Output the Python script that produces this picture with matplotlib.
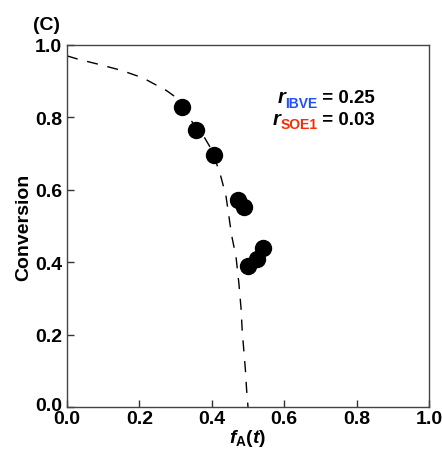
import numpy as np
import matplotlib.pyplot as plt
from matplotlib.transforms import ScaledTranslation

plt.rcParams['font.family'] = 'Liberation Sans'
plt.rcParams['font.weight'] = 'bold'
plt.rcParams['mathtext.fontset'] = 'custom'
plt.rcParams['mathtext.it'] = 'Liberation Sans:bold:italic'
plt.rcParams['mathtext.rm'] = 'Liberation Sans:bold'
plt.rcParams['mathtext.bf'] = 'Liberation Sans:bold'

# experimental points
fA_exp   = [0.318, 0.356, 0.406, 0.472, 0.489, 0.500, 0.525, 0.541]
conv_exp = [0.829, 0.765, 0.696, 0.572, 0.552, 0.390, 0.408, 0.438]

# model curve
fA_fit   = [0.0, 0.03, 0.09, 0.15, 0.21, 0.275, 0.30, 0.326, 0.377, 0.40, 0.423,
            0.439, 0.455, 0.467, 0.475, 0.481, 0.484, 0.489, 0.493, 0.496, 0.50]
conv_fit = [0.97, 0.961, 0.946, 0.930, 0.909, 0.874, 0.856, 0.812, 0.749, 0.71, 0.644,
            0.584, 0.473, 0.414, 0.34, 0.27, 0.21, 0.15, 0.10, 0.05, 0.0]

r_labels = ['IBVE', 'SOE1']
r_values = ['0.25', '0.03']
r_colors = ['#1f4fff', '#ff2a00']

fig = plt.figure(figsize=(4.42, 4.52), dpi=100)
ax = fig.add_axes([67/442, 1-408/452, 362/442, 362/452])

ax.plot(fA_fit, conv_fit, color='black', lw=1.0, dashes=(8, 7))
ax.plot(fA_exp, conv_exp, 'o', color='black', markersize=11.5)

ax.set_xlim(0, 1)
ax.set_ylim(0, 1)
ax.set_xticks(np.arange(0, 1.01, 0.2))
ax.set_yticks(np.arange(0, 1.01, 0.2))
ax.xaxis.set_major_formatter(plt.FormatStrFormatter('%.1f'))
ax.yaxis.set_major_formatter(plt.FormatStrFormatter('%.1f'))
ax.tick_params(direction='in', length=5, width=1, labelsize=14, color='#333333')
ax.tick_params(axis='x', pad=2.5)
ax.tick_params(axis='y', pad=3.5)
for s in ax.spines.values():
    s.set_color('#444444')
    s.set_linewidth(1)

# the bottom y tick label sits a little high in the original
up = ScaledTranslation(0, 3/100, fig.dpi_scale_trans)
lbl0 = ax.get_yticklabels()[0]
lbl0.set_transform(lbl0.get_transform() + up)

ax.set_xlabel(r'$f_{\mathrm{A}}(t)$', fontsize=14, labelpad=0)
ax.set_ylabel('Conversion', fontsize=14, fontweight='bold', labelpad=2)

fig.text(33/442, 1-30/452, '(C)', fontsize=14, fontweight='bold', ha='left', va='baseline')

ys = [0.842, 0.783]
for lab, val, col, y in zip(r_labels, r_values, r_colors, ys):
    t_eq = ax.text(0.851, y, ' = ' + val, fontsize=13.5, fontweight='bold',
                   ha='right', va='baseline')
    t_sub = ax.annotate(lab, xy=(0, 0), xycoords=t_eq, xytext=(0, -2.5),
                        textcoords='offset points', fontsize=10,
                        fontweight='bold', color=col, ha='right', va='bottom')
    ax.annotate('r', xy=(0, 0), xycoords=t_sub, xytext=(0, 2.5),
                textcoords='offset points', fontsize=14.5, fontweight='bold',
                style='italic', ha='right', va='bottom')

fig.savefig('out.png', dpi=100)
